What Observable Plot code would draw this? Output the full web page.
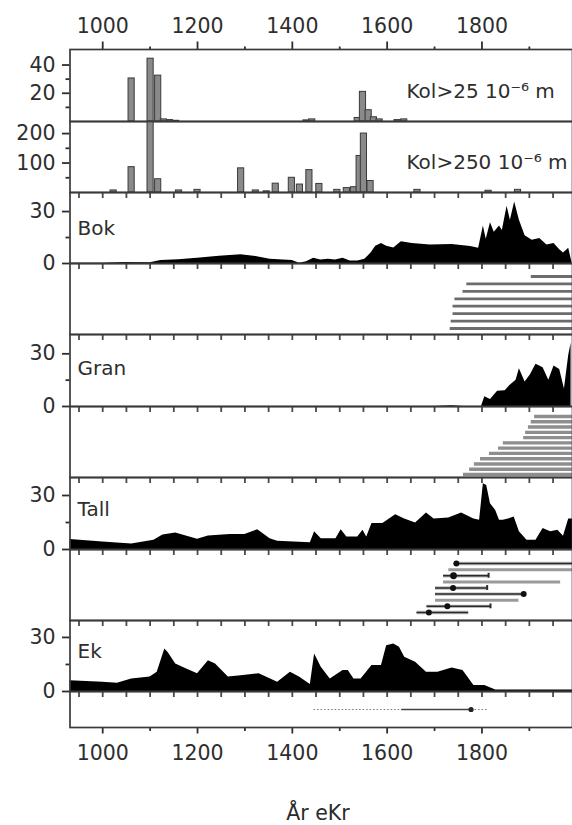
<!DOCTYPE html>
<html><head><meta charset="utf-8">
<script src="https://cdn.jsdelivr.net/npm/d3@7"></script>
<script src="https://cdn.jsdelivr.net/npm/@observablehq/plot@0.6"></script>
<style>
body{margin:0;background:#fff;}
#chart{position:relative;width:572px;height:825px;overflow:hidden;font-family:"DejaVu Sans",sans-serif;color:#2a2a2a;background:#fff;}
#chart svg{position:absolute;left:0;overflow:visible;}
#xlabel{position:absolute;left:218px;width:200px;text-align:center;top:801px;font-size:20.5px;line-height:24px;}
</style></head><body><div id="chart"><div id="xlabel">År eKr</div></div><script>
// ---------- data ----------
const xDomain = [931, 1991];
const majorTicks = [1000, 1200, 1400, 1600, 1800];
const minorTicks = [1100, 1300, 1500, 1700, 1900];
const innerTicks = [950,1000,1050,1100,1150,1200,1250,1300,1350,1400,1450,1500,1550,1600,1650,1700,1750,1800,1850,1900,1950];

const kol25Label = "Kol>25 10⁻⁶ m";
const kol25Year  = [1061, 1101, 1117, 1129, 1142, 1155, 1430, 1442, 1538, 1549, 1561, 1572, 1584, 1622, 1636];
const kol25Value = [30.5, 44.5, 32.5, 1.5, 1, 0.5, 0.8, 1.5, 2.5, 21, 8, 3, 1.5, 1, 1.5];

const kol250Label = "Kol>250 10⁻⁶ m";
const kol250Year  = [1023, 1061, 1101, 1117, 1161, 1200, 1292, 1323, 1346, 1365, 1399, 1416, 1436, 1457, 1495, 1515, 1530, 1542, 1551, 1565, 1664, 1814, 1876];
const kol250Value = [7, 86, 240, 45, 7, 9, 82, 7, 4, 30, 50, 27, 76, 29, 9, 15, 18, 124, 200, 39, 9, 6, 9];

const bokYear  = [931,1000,1046,1100,1123,1160,1200,1246,1292,1323,1353,1400,1415,1430,1445,1460,1476,1491,1507,1522,1538,1553,1566,1576,1588,1599,1614,1630,1653,1691,1737,1776,1793,1803,1809,1818,1826,1837,1843,1853,1860,1869,1879,1891,1906,1922,1937,1952,1964,1972,1983,1990];
const bokValue = [0.2,0.2,0.6,0.5,1.8,2.2,3,4.2,5,4,2.4,1.8,0.2,1,3,2,2.4,2,3,1.5,1.5,2.4,6,10,11.6,10,9,12.5,11.6,10.7,11,9.8,8.8,21.7,14,23.6,18,21.7,19,33,25,35.5,25,16,13.4,14.4,10.7,11.6,8,6,8.8,0.5];

const granYear  = [931,1700,1737,1760,1799,1806,1818,1833,1849,1859,1872,1879,1891,1902,1914,1929,1941,1952,1964,1974,1983,1988];
const granValue = [0,0,0.4,0,0,5.5,4,8.7,9,12,15,21.5,14,18,24,22,15,23,21,10,29,36];

const tallYear  = [931,1000,1061,1108,1127,1154,1200,1223,1269,1300,1327,1353,1369,1438,1447,1461,1492,1503,1515,1538,1549,1557,1568,1591,1618,1637,1660,1683,1699,1730,1757,1783,1795,1803,1810,1818,1829,1837,1845,1856,1868,1879,1895,1914,1929,1945,1960,1972,1983,1991];
const tallValue = [5.5,4.2,3,5.2,8,9.2,5.7,7.5,8.3,8.3,11,6,4.6,3.7,9.8,6,6,11,7,7,10.7,7,14.4,14.4,19.3,17,14.7,20.3,17,17.5,20.3,17,16.2,36.5,35.5,25.4,21.7,16.2,16.2,17,18,9.8,5.2,5.2,11.6,9.8,10.7,7.4,17,17];

const ekYear  = [931,1000,1031,1061,1100,1115,1131,1138,1154,1177,1200,1223,1238,1265,1292,1330,1369,1396,1415,1438,1447,1461,1480,1507,1518,1530,1545,1568,1588,1599,1614,1626,1637,1660,1683,1707,1737,1760,1783,1806,1829,1991];
const ekValue = [6,5.2,4.6,7,8,10.7,23.6,21.7,15.3,12.5,9.8,17,15.3,8,8.8,9.8,5.2,10.7,8,3.9,20.8,13.4,7,11.6,11.6,7,7,14.4,14.4,25.4,26.3,24.5,19,16.2,10.7,10.7,13,11.6,3.3,3.3,0.9,0.9];

// tree-ring series (start year, end year)
const openEnd = 2000;
const bokLineStart  = [1904, 1768, 1760, 1743, 1739, 1739, 1735, 1733];
const granLineStart = [1911, 1904, 1898, 1892, 1888, 1845, 1835, 1816, 1797, 1784, 1774, 1761];
const tallLineStart = [1744, 1730, 1719, 1719, 1702, 1702, 1702, 1684, 1663];
const tallLineEnd   = [2000, 2000, 1814, 1966, 1811, 1888, 1878, 1818, 1772];
const tallLineKind  = ["dark", "gray", "dark", "gray", "dark", "dark", "gray", "dark", "dark"];
const tallLineDot   = [1746, null, 1740, null, 1739, 1888, null, 1727, 1688];
const tallLineTick  = [null, null, 1814, null, 1811, null, null, 1818, null];
const ekLineStart = 1446, ekLineSolid = 1631, ekLineDot = 1777, ekLineEnd = 1812;

// ---------- build ----------
const zip = (xs, ys) => xs.map((year, i) => ({year, value: ys[i]}));
const chart = document.getElementById("chart");
const ink = "#2e2e2e";
const FS = 20.5;
const TW = 1.8; // tick stroke width

function panel(top, h, opts) {
  const mt = opts.marginTop || 0, mb = opts.marginBottom || 0;
  const svg = Plot.plot({
    width: 572, height: h + mt + mb,
    marginLeft: 69.5, marginRight: 0, marginTop: mt, marginBottom: mb,
    x: {domain: xDomain, axis: null},
    y: {domain: opts.yDomain, axis: null, reverse: !!opts.reverse},
    style: {background: "transparent", overflow: "visible", fontFamily: "DejaVu Sans", fontSize: "20px", color: ink},
    marks: [
      ...(opts.marks || []),
      // ticks hanging down from this panel's lower edge = inward ticks of the next panel
      ...(opts.ticksBelow ? [Plot.axisX({anchor: "bottom", ticks: innerTicks, tickSize: 6, tickFormat: () => "", color: "#4a4a4a", strokeWidth: TW, label: null})] : []),
      Plot.frame({stroke: "#3a3a3a", strokeWidth: 1.7})
    ]
  });
  svg.style.top = (top - mt) + "px";
  chart.appendChild(svg);
}

const yAxes = (ticks, minor) => [
  Plot.axisY({ticks, tickSize: 7.5, tickPadding: 7, tickFormat: d => String(d), fontSize: FS, fontFamily: "DejaVu Sans", color: ink, strokeWidth: TW, label: null}),
  Plot.axisY({ticks: minor, tickSize: 4, tickFormat: () => "", color: ink, strokeWidth: TW, label: null})
];
const nameLabel = (txt, dy) => Plot.text([txt], {text: d => d, frameAnchor: "top-left", textAnchor: "start", lineAnchor: "middle", dx: 7.5, dy, fontSize: 20, fill: ink});
const area = (data) => Plot.areaY(data, {x: "year", y: "value", fill: "#000", curve: "linear"});
const bars = (data) => Plot.rect(data, {x1: d => d.year - 6.5, x2: d => d.year + 6.5, y1: 0, y2: "value", fill: "#8a8a8a", stroke: "#3a3a3a", strokeWidth: 1});

// P1 Kol>25
panel(49, 72, {
  marginTop: 49, yDomain: [0, 51],
  marks: [
    bars(zip(kol25Year, kol25Value)),
    Plot.axisX({anchor: "top", ticks: majorTicks, tickSize: 8.5, tickPadding: 8, tickFormat: d => String(d), fontSize: FS, fontFamily: "DejaVu Sans", color: ink, strokeWidth: TW, label: null}),
    Plot.axisX({anchor: "top", ticks: minorTicks, tickSize: 3.5, tickFormat: () => "", color: ink, strokeWidth: TW, label: null}),
    ...yAxes([20, 40], [10, 30]),
    Plot.text([kol25Label], {text: d => d, frameAnchor: "left", textAnchor: "start", dx: 336.5, dy: 6, fontSize: 20, fill: ink})
  ]
});
// P2 Kol>250
panel(121, 71, {
  yDomain: [0, 241], ticksBelow: true,
  marks: [
    bars(zip(kol250Year, kol250Value)),
    ...yAxes([100, 200], [50, 150]),
    Plot.text([kol250Label], {text: d => d, frameAnchor: "left", textAnchor: "start", dx: 336.5, dy: 6, fontSize: 20, fill: ink})
  ]
});
// P3 Bok
panel(192, 71, {
  yDomain: [0, 41], ticksBelow: true,
  marks: [area(zip(bokYear, bokValue)), ...yAxes([0, 30], [15]), nameLabel("Bok", 35.7)]
});
// P4 Bok lines
panel(263, 71, {
  yDomain: [-1.75, 7.81], reverse: true, ticksBelow: true,
  marks: [Plot.ruleY(bokLineStart, {y: (d, i) => i, x1: d => d, x2: () => openEnd, stroke: "#6c6c6c", strokeWidth: 2.8})]
});
// P5 Gran
panel(334, 72, {
  yDomain: [0, 41], ticksBelow: true,
  marks: [area(zip(granYear, granValue)), ...yAxes([0, 30], [15]), nameLabel("Gran", 33.7)]
});
// P6 Gran lines
panel(406, 71, {
  yDomain: [-1.9, 11.57], reverse: true, ticksBelow: true,
  marks: [Plot.ruleY(granLineStart, {y: (d, i) => i, x1: d => d, x2: () => openEnd, stroke: "#8e8e8e", strokeWidth: 3.4})]
});
// P7 Tall
panel(477, 72, {
  yDomain: [0, 40], ticksBelow: true,
  marks: [area(zip(tallYear, tallValue)), ...yAxes([0, 30], [15]), nameLabel("Tall", 32.4)]
});
// P8 Tall lines
const tallRows = tallLineStart.map((s, i) => ({row: i, start: s, end: tallLineEnd[i], kind: tallLineKind[i], dot: tallLineDot[i], tick: tallLineTick[i]}));
panel(549, 71, {
  yDomain: [-2.29, 9.31], reverse: true, ticksBelow: true,
  marks: [
    Plot.ruleY(tallRows.filter(d => d.kind === "gray"), {y: "row", x1: "start", x2: "end", stroke: "#9a9a9a", strokeWidth: 3}),
    Plot.ruleY(tallRows.filter(d => d.kind === "dark"), {y: "row", x1: "start", x2: "end", stroke: "#b8b8b8", strokeWidth: 3.4}),
    Plot.ruleY(tallRows.filter(d => d.kind === "dark"), {y: "row", x1: "start", x2: "end", stroke: "#2a2a2a", strokeWidth: 1.5}),
    Plot.ruleX(tallRows.filter(d => d.tick != null), {x: "tick", y1: d => d.row - 0.4, y2: d => d.row + 0.4, stroke: "#2a2a2a", strokeWidth: 2}),
    Plot.dot(tallRows.filter(d => d.dot != null), {x: "dot", y: "row", r: d => d.row === 2 ? 3.6 : 2.8, fill: "#111", stroke: "none"})
  ]
});
// P9 Ek
panel(620, 71, {
  yDomain: [0, 39.4], ticksBelow: true,
  marks: [area(zip(ekYear, ekValue)), ...yAxes([0, 30], [15]), nameLabel("Ek", 30.7)]
});
// P10 Ek lines + bottom axis
panel(691, 36, {
  marginBottom: 50, yDomain: [-1, 1],
  marks: [
    Plot.ruleY([0], {y: d => d, x1: () => ekLineStart, x2: () => ekLineEnd, stroke: "#777", strokeWidth: 1.2, strokeDasharray: "1.5,2"}),
    Plot.ruleY([0], {y: d => d, x1: () => ekLineSolid, x2: () => ekLineDot, stroke: "#444", strokeWidth: 1.3}),
    Plot.dot([ekLineDot], {x: d => d, y: () => 0, r: 2.6, fill: "#222", stroke: "none"}),
    Plot.axisX({anchor: "bottom", ticks: majorTicks, tickSize: 6.5, tickPadding: 11, tickFormat: d => String(d), fontSize: FS, fontFamily: "DejaVu Sans", color: ink, strokeWidth: TW, label: null}),
    Plot.axisX({anchor: "bottom", ticks: minorTicks, tickSize: 4, tickFormat: () => "", color: ink, strokeWidth: TW, label: null})
  ]
});
</script></body></html>
